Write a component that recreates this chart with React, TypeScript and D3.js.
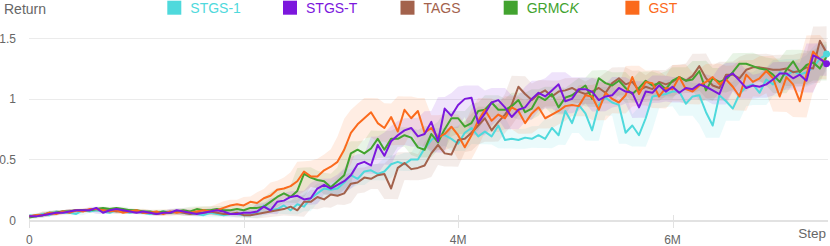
import React, { useEffect, useRef } from "react";
import * as d3 from "d3";

// step interval between logged points (in env steps)
const STEP = 62500;

const seriesNames = ["STGS-1", "TAGS", "GRMCK", "GST", "STGS-T"];
const legendOrder = ["STGS-1", "STGS-T", "TAGS", "GRMCK", "GST"];
const colors: Record<string, string> = {
  "STGS-1": "#4fd9dc",
  "STGS-T": "#7c17dd",
  TAGS: "#a3624c",
  GRMCK: "#42a32f",
  GST: "#fb6a1c",
};

const stgs1 = [
  0.04, 0.03, 0.05, 0.04, 0.07, 0.06, 0.06, 0.05, 0.08, 0.07, 0.08, 0.07, 0.06, 0.08, 0.07, 0.06,
  0.07, 0.06, 0.05, 0.06, 0.07, 0.06, 0.07, 0.06, 0.05, 0.05, 0.04, 0.06, 0.05, 0.04, 0.05, 0.05,
  0.04, 0.04, 0.06, 0.12, 0.08, 0.09, 0.12, 0.08, 0.13, 0.11, 0.18, 0.22, 0.26, 0.25, 0.26, 0.31,
  0.37, 0.34, 0.40, 0.41, 0.38, 0.40, 0.46, 0.48, 0.46, 0.50, 0.50, 0.59, 0.66, 0.70, 0.70, 0.67,
  0.63, 0.72, 0.76, 0.69, 0.73, 0.69, 0.78, 0.66, 0.67, 0.66, 0.68, 0.67, 0.70, 0.67, 0.76, 0.70,
  0.90, 0.80, 0.95, 0.88, 0.74, 0.95, 1.01, 0.97, 0.95, 0.72, 0.78, 0.70, 0.84, 1.02, 1.03, 1.04,
  1.06, 1.06, 0.96, 1.02, 1.03, 0.89, 0.78, 1.03, 0.98, 0.92, 1.04, 1.10, 1.12, 1.05, 1.16, 1.12,
  1.22, 1.19, 1.23, 1.20, 1.22, 1.26, 1.33, 1.37,
];

const stgsT = [
  0.03, 0.03, 0.04, 0.05, 0.06, 0.06, 0.07, 0.08, 0.08, 0.08, 0.10, 0.06, 0.08, 0.09, 0.08, 0.07,
  0.06, 0.07, 0.06, 0.05, 0.06, 0.06, 0.08, 0.07, 0.06, 0.05, 0.06, 0.07, 0.08, 0.07, 0.05, 0.05,
  0.06, 0.06, 0.07, 0.11, 0.08, 0.15, 0.16, 0.19, 0.20, 0.17, 0.18, 0.26, 0.29, 0.26, 0.29, 0.32,
  0.37, 0.46, 0.48, 0.45, 0.62, 0.53, 0.65, 0.70, 0.74, 0.76, 0.69, 0.71, 0.81, 0.65, 0.92, 0.86,
  0.95, 1.00, 1.01, 0.80, 0.88, 0.97, 0.99, 0.93, 0.85, 0.91, 0.93, 1.00, 1.05, 1.02, 1.07, 1.12,
  0.98, 1.00, 1.08, 1.08, 1.06, 0.99, 1.02, 1.03, 1.09, 1.06, 1.05, 0.93, 1.06, 1.05, 1.11, 1.06,
  1.10, 1.05, 1.09, 1.08, 1.12, 1.10, 1.07, 1.04, 1.18, 1.21, 1.15, 1.09, 1.11, 1.10, 1.12, 1.16,
  1.21, 1.21, 1.17, 1.20, 1.15, 1.36, 1.33, 1.29,
];

const tags = [
  0.03, 0.04, 0.04, 0.05, 0.06, 0.07, 0.07, 0.08, 0.08, 0.08, 0.09, 0.08, 0.08, 0.07, 0.07, 0.08,
  0.07, 0.06, 0.06, 0.05, 0.06, 0.06, 0.07, 0.06, 0.05, 0.06, 0.06, 0.07, 0.06, 0.05, 0.05, 0.06,
  0.04, 0.04, 0.05, 0.06, 0.07, 0.08, 0.09, 0.11, 0.08, 0.15, 0.15, 0.19, 0.17, 0.21, 0.20, 0.22,
  0.30, 0.31, 0.35, 0.34, 0.37, 0.38, 0.26, 0.43, 0.47, 0.42, 0.43, 0.45, 0.55, 0.62, 0.55, 0.54,
  0.66, 0.67, 0.72, 0.78, 0.84, 0.74, 0.81, 0.87, 0.95, 1.10, 1.04, 0.99, 1.04, 1.07, 1.02, 1.06,
  1.07, 1.09, 1.06, 1.04, 1.06, 1.09, 1.05, 1.13, 1.17, 1.12, 1.14, 1.07, 1.10, 1.08, 1.14, 1.12,
  1.14, 1.18, 1.15, 1.19, 1.27, 1.17, 1.11, 1.09, 1.20, 1.20, 1.17, 1.24, 1.26, 1.26, 1.25, 1.24,
  1.24, 1.25, 1.22, 1.23, 1.26, 1.25, 1.48, 1.38,
];

const grmck = [
  0.02, 0.03, 0.04, 0.06, 0.06, 0.07, 0.07, 0.08, 0.08, 0.08, 0.09, 0.10, 0.09, 0.10, 0.09, 0.08,
  0.08, 0.07, 0.07, 0.06, 0.07, 0.06, 0.07, 0.08, 0.07, 0.09, 0.08, 0.08, 0.09, 0.08, 0.08, 0.09,
  0.08, 0.10, 0.10, 0.11, 0.15, 0.19, 0.22, 0.19, 0.24, 0.38, 0.35, 0.33, 0.32, 0.27, 0.32, 0.37,
  0.55, 0.58, 0.55, 0.59, 0.67, 0.58, 0.67, 0.67, 0.70, 0.68, 0.60, 0.58, 0.71, 0.64, 0.75, 0.84,
  0.84, 0.77, 0.80, 0.90, 0.91, 0.97, 0.91, 0.91, 0.94, 0.99, 0.89, 0.92, 1.02, 0.99, 1.04, 0.93,
  1.01, 1.03, 1.07, 1.11, 1.00, 1.17, 1.13, 1.11, 1.15, 1.09, 1.04, 1.09, 1.15, 1.11, 1.13, 1.08,
  1.15, 1.18, 1.15, 1.16, 1.23, 1.07, 1.17, 1.14, 1.16, 1.22, 1.29, 1.29, 1.27, 1.25, 1.24, 1.20,
  1.14, 1.24, 1.31, 1.22, 1.28, 1.30, 1.25, 1.35,
];

const gst = [
  0.03, 0.04, 0.04, 0.06, 0.05, 0.07, 0.06, 0.08, 0.07, 0.09, 0.09, 0.08, 0.07, 0.08, 0.06, 0.07,
  0.08, 0.06, 0.06, 0.07, 0.05, 0.07, 0.06, 0.07, 0.06, 0.07, 0.08, 0.07, 0.08, 0.10, 0.12, 0.13,
  0.12, 0.15, 0.14, 0.18, 0.20, 0.25, 0.26, 0.28, 0.32, 0.40, 0.36, 0.36, 0.41, 0.44, 0.48, 0.58,
  0.72, 0.79, 0.84, 0.89, 0.80, 0.76, 0.85, 0.73, 0.91, 0.84, 0.90, 0.72, 0.76, 0.68, 0.71, 0.77,
  0.70, 0.60, 0.70, 0.82, 0.91, 0.82, 0.87, 0.84, 0.93, 0.90, 0.80, 0.88, 0.93, 0.84, 0.87, 0.90,
  0.94, 0.95, 0.94, 1.03, 1.02, 0.91, 1.05, 1.00, 0.97, 1.03, 1.18, 1.04, 1.14, 1.13, 1.02, 1.09,
  1.08, 1.18, 1.08, 1.06, 1.11, 1.14, 1.18, 1.12, 1.16, 1.10, 1.02, 1.20, 1.14, 1.17, 1.23, 1.17,
  1.02, 1.18, 1.12, 0.98, 1.20, 1.39, 1.33, 1.30,
];

const values: Record<string, number[]> = {
  "STGS-1": stgs1,
  "STGS-T": stgsT,
  TAGS: tags,
  GRMCK: grmck,
  GST: gst,
};

// half-width of the shaded spread, read at 1M intervals
const bandSteps = [0, 1e6, 2e6, 3e6, 4e6, 5e6, 6e6, 7.5e6];
const bandWidth: Record<string, number[]> = {
  "STGS-1": [0.01, 0.01, 0.02, 0.05, 0.06, 0.08, 0.1, 0.1],
  "STGS-T": [0.01, 0.01, 0.02, 0.06, 0.1, 0.1, 0.08, 0.1],
  TAGS: [0.01, 0.01, 0.02, 0.08, 0.1, 0.08, 0.1, 0.12],
  GRMCK: [0.01, 0.01, 0.03, 0.07, 0.06, 0.06, 0.08, 0.1],
  GST: [0.01, 0.01, 0.04, 0.12, 0.1, 0.08, 0.1, 0.14],
};

const yTicks = [0, 0.5, 1, 1.5];
const xTicks = [0, 2e6, 4e6, 6e6];
const xTickLabels = ["0", "2M", "4M", "6M"];
const endMarkers = ["STGS-1", "STGS-T"];

const W = 830;
const H = 246;
const FONT = "'Liberation Sans', Arial, sans-serif";

const App: React.FC = () => {
  const svgRef = useRef<SVGSVGElement>(null);

  useEffect(() => {
    const svg = d3.select(svgRef.current);
    svg.selectAll("*").remove();

    const n = stgs1.length;
    const x = d3.scaleLinear().domain([0, (n - 1) * STEP]).range([29.3, 826.6]);
    const y = d3.scaleLinear().domain([0, 1.5]).range([220, 38.3]);

    // grid
    svg
      .append("g")
      .selectAll("line")
      .data(yTicks.filter((t) => t > 0))
      .enter()
      .append("line")
      .attr("x1", 29)
      .attr("x2", 828)
      .attr("y1", (d) => Math.round(y(d)) + 0.5)
      .attr("y2", (d) => Math.round(y(d)) + 0.5)
      .attr("stroke", "#ebebeb");

    // x axis base line + ticks
    svg
      .append("line")
      .attr("x1", 29)
      .attr("x2", 828)
      .attr("y1", y(0) + 1)
      .attr("y2", y(0) + 1)
      .attr("stroke", "#e2e2e2")
      .attr("stroke-width", 2);

    svg
      .append("g")
      .selectAll("line")
      .data(xTicks)
      .enter()
      .append("line")
      .attr("x1", (d) => Math.round(x(d)) + 0.5)
      .attr("x2", (d) => Math.round(x(d)) + 0.5)
      .attr("y1", y(0) - 5)
      .attr("y2", y(0) + 8)
      .attr("stroke", "#e2e2e2");

    svg
      .append("g")
      .selectAll("text")
      .data(xTicks)
      .enter()
      .append("text")
      .attr("x", (d) => x(d))
      .attr("y", 244)
      .attr("text-anchor", "middle")
      .attr("font-family", FONT)
      .attr("font-size", 12)
      .attr("fill", "#666")
      .text((d, i) => xTickLabels[i]);

    svg
      .append("g")
      .selectAll("text")
      .data(yTicks)
      .enter()
      .append("text")
      .attr("x", 16)
      .attr("y", (d) => y(d) + 4.5)
      .attr("text-anchor", "end")
      .attr("font-family", FONT)
      .attr("font-size", 12)
      .attr("fill", "#666")
      .text((d) => String(d));

    svg
      .append("text")
      .attr("x", 826)
      .attr("y", 238)
      .attr("text-anchor", "end")
      .attr("font-family", FONT)
      .attr("font-size", 13.5)
      .attr("fill", "#666")
      .text("Step");

    svg
      .append("text")
      .attr("x", 4)
      .attr("y", 14)
      .attr("font-family", FONT)
      .attr("font-size", 14)
      .attr("fill", "#666")
      .text("Return");

    // bands
    const bands = svg.append("g");
    seriesNames.forEach((name) => {
      const v = values[name];
      const bw = d3.scaleLinear().domain(bandSteps).range(bandWidth[name]);
      const pts = v.map((d, i) => {
        const nb = v.slice(Math.max(0, i - 1), Math.min(n, i + 2));
        const w = bw(i * STEP);
        return { s: i * STEP, lo: (d3.min(nb) as number) - w, hi: (d3.max(nb) as number) + w };
      });
      const area = d3
        .area<{ s: number; lo: number; hi: number }>()
        .x((d) => x(d.s))
        .y0((d) => y(Math.max(0, d.lo)))
        .y1((d) => y(d.hi));
      bands
        .append("path")
        .datum(pts)
        .attr("d", area)
        .attr("fill", colors[name])
        .attr("fill-opacity", 0.12);
    });

    // lines
    const line = d3
      .line<number>()
      .x((d, i) => x(i * STEP))
      .y((d) => y(d));

    seriesNames.forEach((name) => {
      svg
        .append("path")
        .datum(values[name])
        .attr("d", line)
        .attr("fill", "none")
        .attr("stroke", colors[name])
        .attr("stroke-width", 2)
        .attr("stroke-linejoin", "round");
    });

    endMarkers.forEach((name) => {
      const v = values[name];
      svg
        .append("circle")
        .attr("cx", x((n - 1) * STEP))
        .attr("cy", y(v[n - 1]))
        .attr("r", 3.5)
        .attr("fill", colors[name]);
    });

    // legend
    const legendX = [167.3, 283, 400.5, 503.7, 625.4];
    const legend = svg.append("g");
    legendOrder.forEach((name, i) => {
      const g = legend.append("g").attr("transform", `translate(${legendX[i]},0)`);
      g.append("rect")
        .attr("x", 0)
        .attr("y", 0.7)
        .attr("width", 14)
        .attr("height", 14)
        .attr("fill", colors[name]);
      const t = g
        .append("text")
        .attr("x", 23)
        .attr("y", 12.7)
        .attr("font-family", FONT)
        .attr("font-size", 14)
        .attr("fill", colors[name]);
      if (name === "GRMCK") {
        t.append("tspan").text("GRMC");
        t.append("tspan").attr("font-style", "italic").text("K");
      } else {
        t.text(name);
      }
    });
  }, []);

  return (
    <svg
      ref={svgRef}
      width={W}
      height={H}
      style={{ position: "absolute", left: 0, top: 0, background: "#fff" }}
    ></svg>
  );
};

export default App;
